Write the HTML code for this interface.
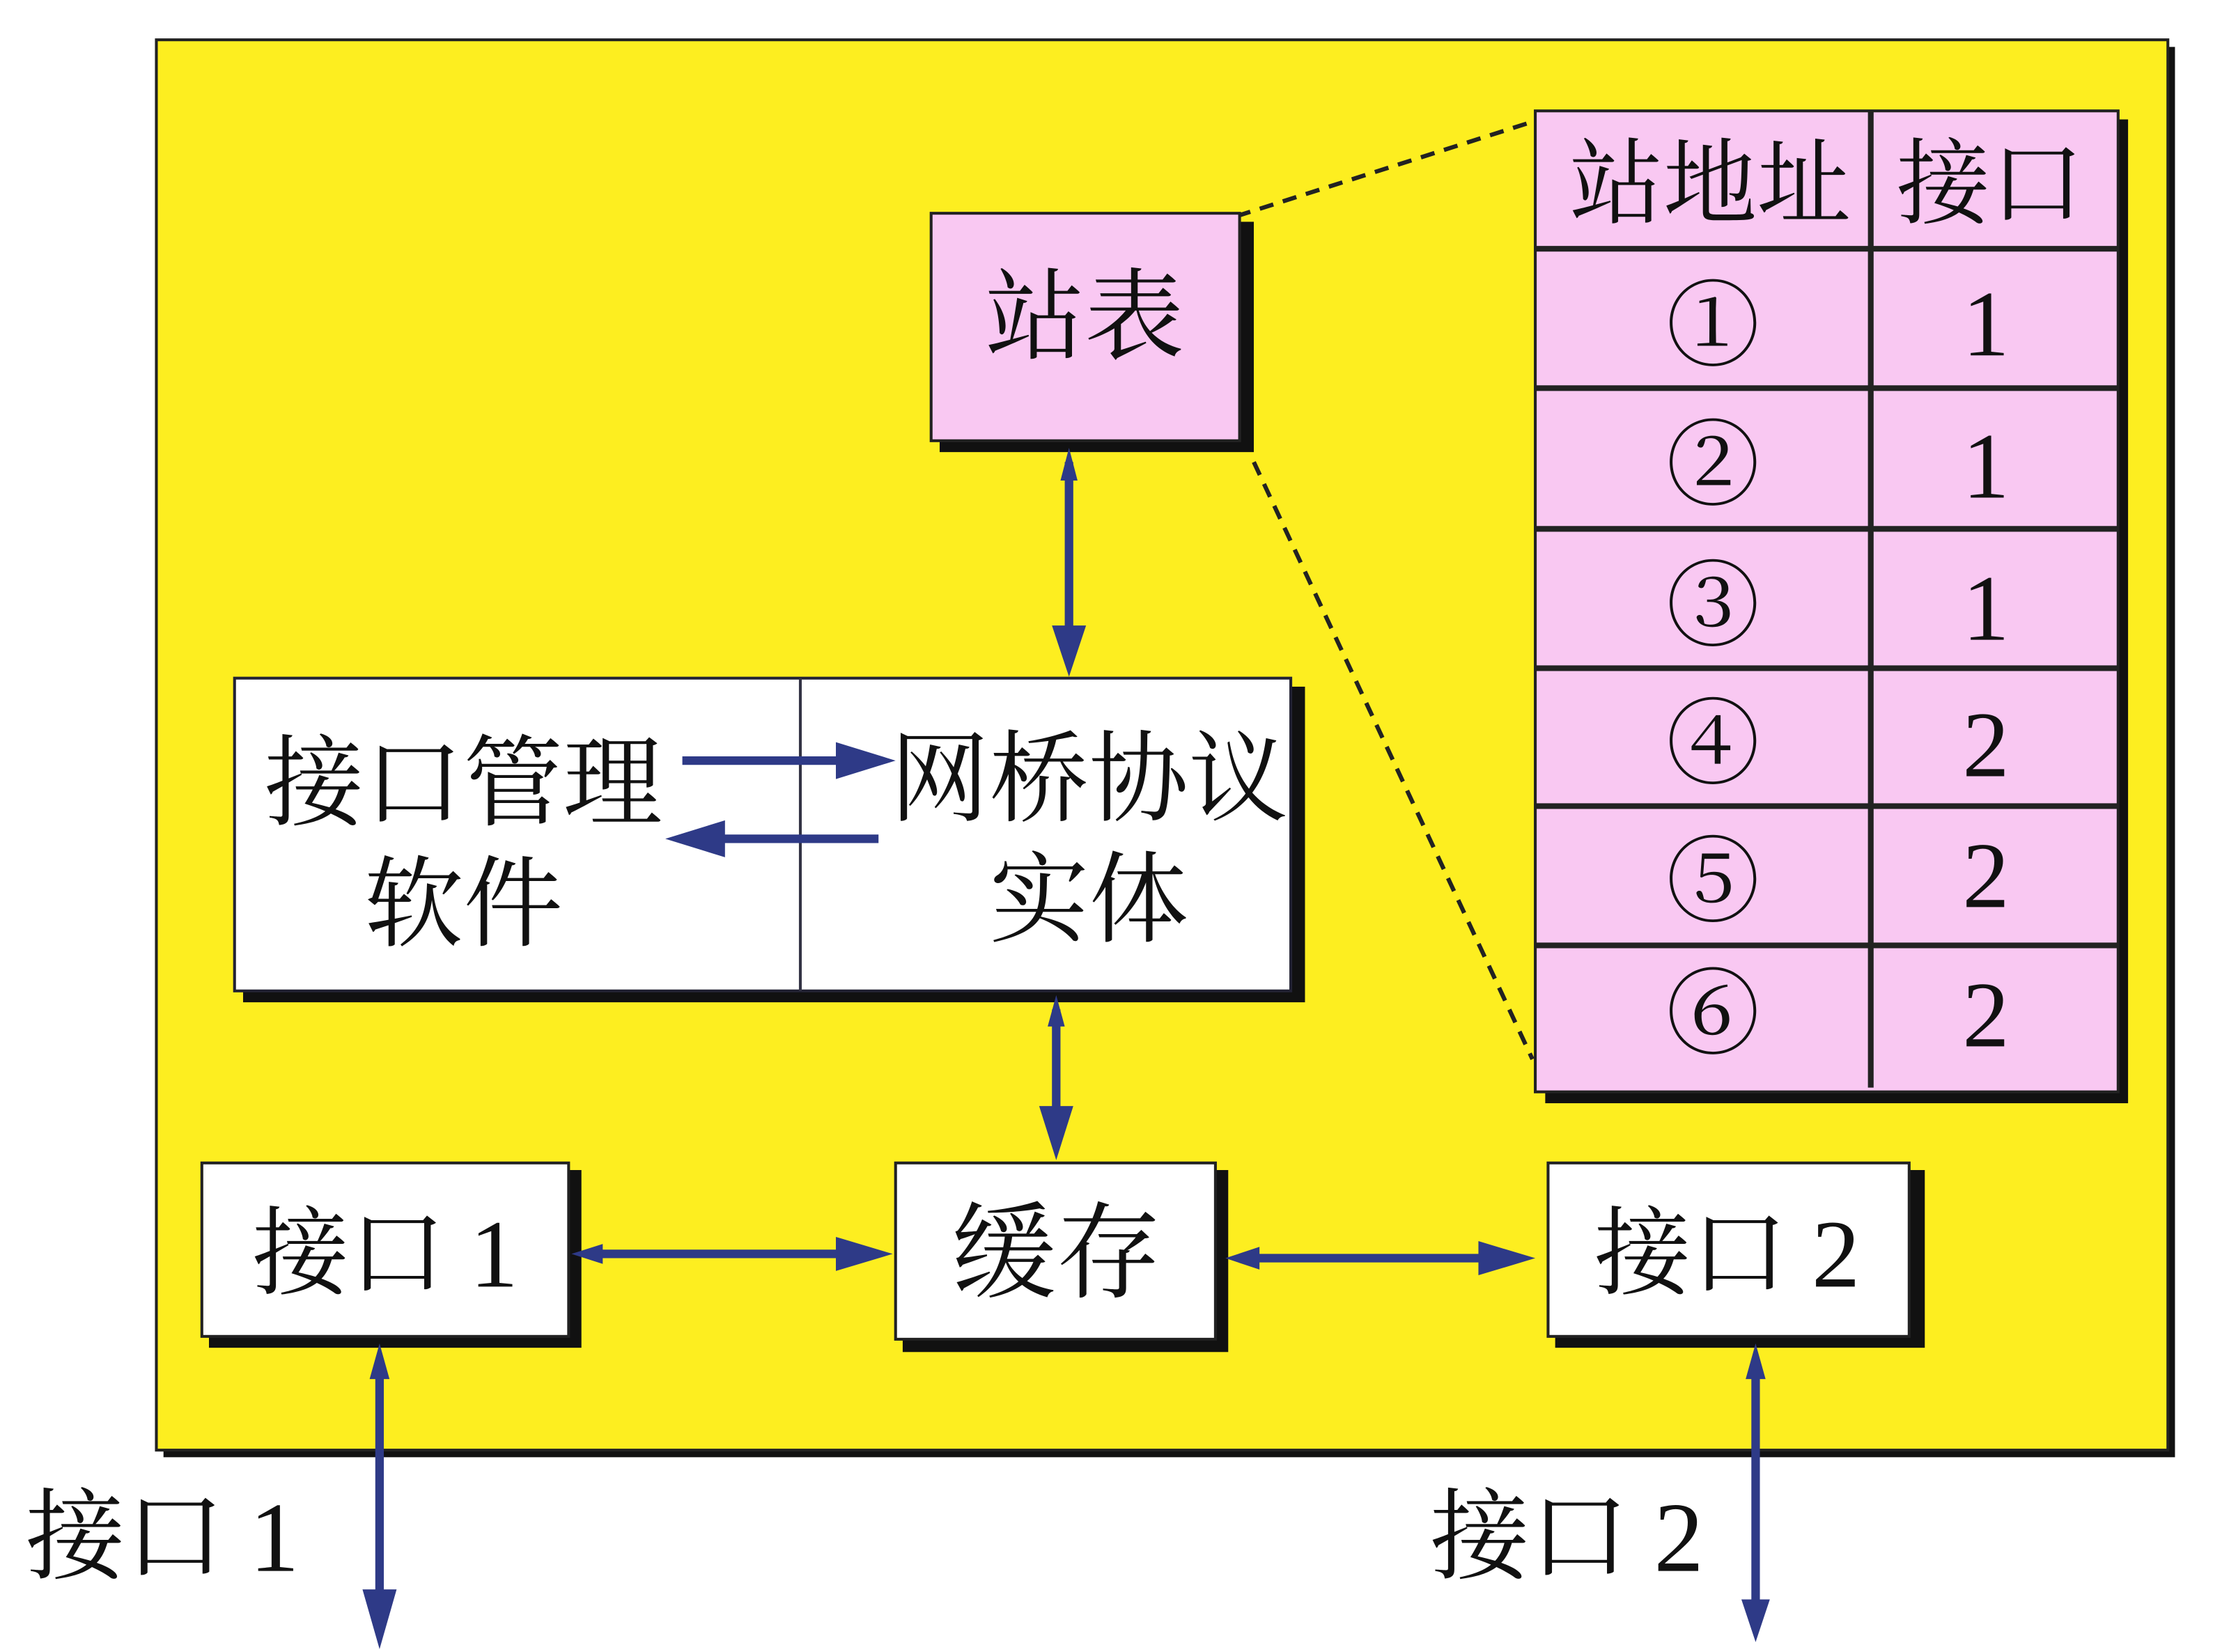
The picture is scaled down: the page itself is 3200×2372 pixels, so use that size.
<!DOCTYPE html>
<html><head><meta charset="utf-8"><style>
html,body{margin:0;padding:0;background:#fff;}
svg{display:block;}
text{font-family:"Liberation Serif","Noto Serif CJK SC",serif;fill:#111;}
</style></head><body>
<svg width="3200" height="2372" viewBox="0 0 1568 1162" preserveAspectRatio="none" xmlns="http://www.w3.org/2000/svg">
<defs>
<marker id="ah" viewBox="0 0 10 10" refX="9" refY="5" markerWidth="7" markerHeight="5" orient="auto-start-reverse" markerUnits="userSpaceOnUse">
</marker>
</defs>
<!-- yellow box -->
<rect x="115" y="33" width="1415" height="992" fill="#111"/>
<rect x="110" y="28" width="1415" height="992" fill="#fdee20" stroke="#222" stroke-width="2"/>
<!-- dashed -->
<line x1="870" y1="152" x2="1080" y2="85" stroke="#222" stroke-width="3" stroke-dasharray="10,7"/>
<line x1="882" y1="325" x2="1078" y2="745" stroke="#222" stroke-width="3" stroke-dasharray="10,7"/>
<!-- 站表 -->
<rect x="661" y="156" width="221" height="162" fill="#111"/>
<rect x="655" y="150" width="217" height="160" fill="#f9c8f2" stroke="#222" stroke-width="2"/>
<text x="763" y="247" font-size="70" text-anchor="middle">站表</text>
<!-- table -->
<rect x="1087" y="84" width="410" height="692" fill="#111"/>
<rect x="1080" y="78" width="410" height="690" fill="#f9c8f2" stroke="#222" stroke-width="2"/>
<g stroke="#222" stroke-width="4">
<line x1="1080" y1="175" x2="1490" y2="175"/>
<line x1="1080" y1="273" x2="1490" y2="273"/>
<line x1="1080" y1="372" x2="1490" y2="372"/>
<line x1="1080" y1="470" x2="1490" y2="470"/>
<line x1="1080" y1="567" x2="1490" y2="567"/>
<line x1="1080" y1="665" x2="1490" y2="665"/>
<line x1="1316" y1="78" x2="1316" y2="765"/>
</g>
<g font-size="66" text-anchor="middle">
<text x="1203" y="152">站地址</text>
<text x="1400" y="152">接口</text>
<text x="1205" y="252">①</text><text x="1397" y="250">1</text>
<text x="1205" y="350">②</text><text x="1397" y="350">1</text>
<text x="1205" y="449">③</text><text x="1397" y="450">1</text>
<text x="1205" y="546">④</text><text x="1397" y="546">2</text>
<text x="1205" y="643">⑤</text><text x="1397" y="638">2</text>
<text x="1205" y="736">⑥</text><text x="1397" y="736">2</text>
</g>
<!-- big box -->
<rect x="171" y="483" width="747" height="222" fill="#111"/>
<rect x="165" y="477" width="743" height="220" fill="#fff" stroke="#223" stroke-width="2"/>
<line x1="563" y1="477" x2="563" y2="697" stroke="#334" stroke-width="2"/>
<g font-size="70" text-anchor="middle">
<text x="326" y="575">接口管理</text>
<text x="326" y="660">软件</text>
<text x="766" y="572">网桥协议</text>
<text x="766" y="657">实体</text>
</g>
<!-- small boxes -->
<rect x="147" y="823" width="262" height="125" fill="#111"/>
<rect x="142" y="818" width="258" height="122" fill="#fff" stroke="#222" stroke-width="2"/>
<text x="271" y="905" font-size="68" text-anchor="middle">接口 1</text>
<rect x="635" y="823" width="229" height="128" fill="#111"/>
<rect x="630" y="818" width="225" height="124" fill="#fff" stroke="#222" stroke-width="2"/>
<text x="743" y="907" font-size="74" text-anchor="middle">缓存</text>
<rect x="1094" y="823" width="260" height="125" fill="#111"/>
<rect x="1089" y="818" width="254" height="122" fill="#fff" stroke="#222" stroke-width="2"/>
<text x="1215" y="905" font-size="68" text-anchor="middle">接口 2</text>
<!-- bottom labels -->
<text x="18" y="1105" font-size="70">接口 1</text>
<text x="1006" y="1105" font-size="70">接口 2</text>
<!-- arrows -->
<g stroke="#2e3a87" stroke-width="6" fill="#2e3a87">
<line x1="752" y1="325" x2="752" y2="445"/>
<line x1="743" y1="710" x2="743" y2="785"/>
<line x1="415" y1="882" x2="595" y2="882"/>
<line x1="875" y1="885" x2="1045" y2="885"/>
<line x1="267" y1="958" x2="267" y2="1125"/>
<line x1="1235" y1="958" x2="1235" y2="1125"/>
<line x1="480" y1="535" x2="595" y2="535"/>
<line x1="505" y1="590" x2="618" y2="590"/>
</g>
<g fill="#2e3a87">
<polygon points="752,315 746,338 758,338"/>
<polygon points="740,440 764,440 752,476"/>
<polygon points="743,700 737,722 749,722"/>
<polygon points="731,778 755,778 743,816"/>
<polygon points="402,882 424,875 424,889"/>
<polygon points="588,870 628,882 588,894"/>
<polygon points="862,885 886,877 886,893"/>
<polygon points="1040,873 1080,885 1040,897"/>
<polygon points="267,945 260,970 274,970"/>
<polygon points="255,1118 279,1118 267,1160"/>
<polygon points="1235,945 1228,970 1242,970"/>
<polygon points="1225,1125 1245,1125 1235,1155"/>
<polygon points="588,522 630,535 588,548"/>
<polygon points="510,577 468,590 510,603"/>
</g>
</svg>
</body></html>
